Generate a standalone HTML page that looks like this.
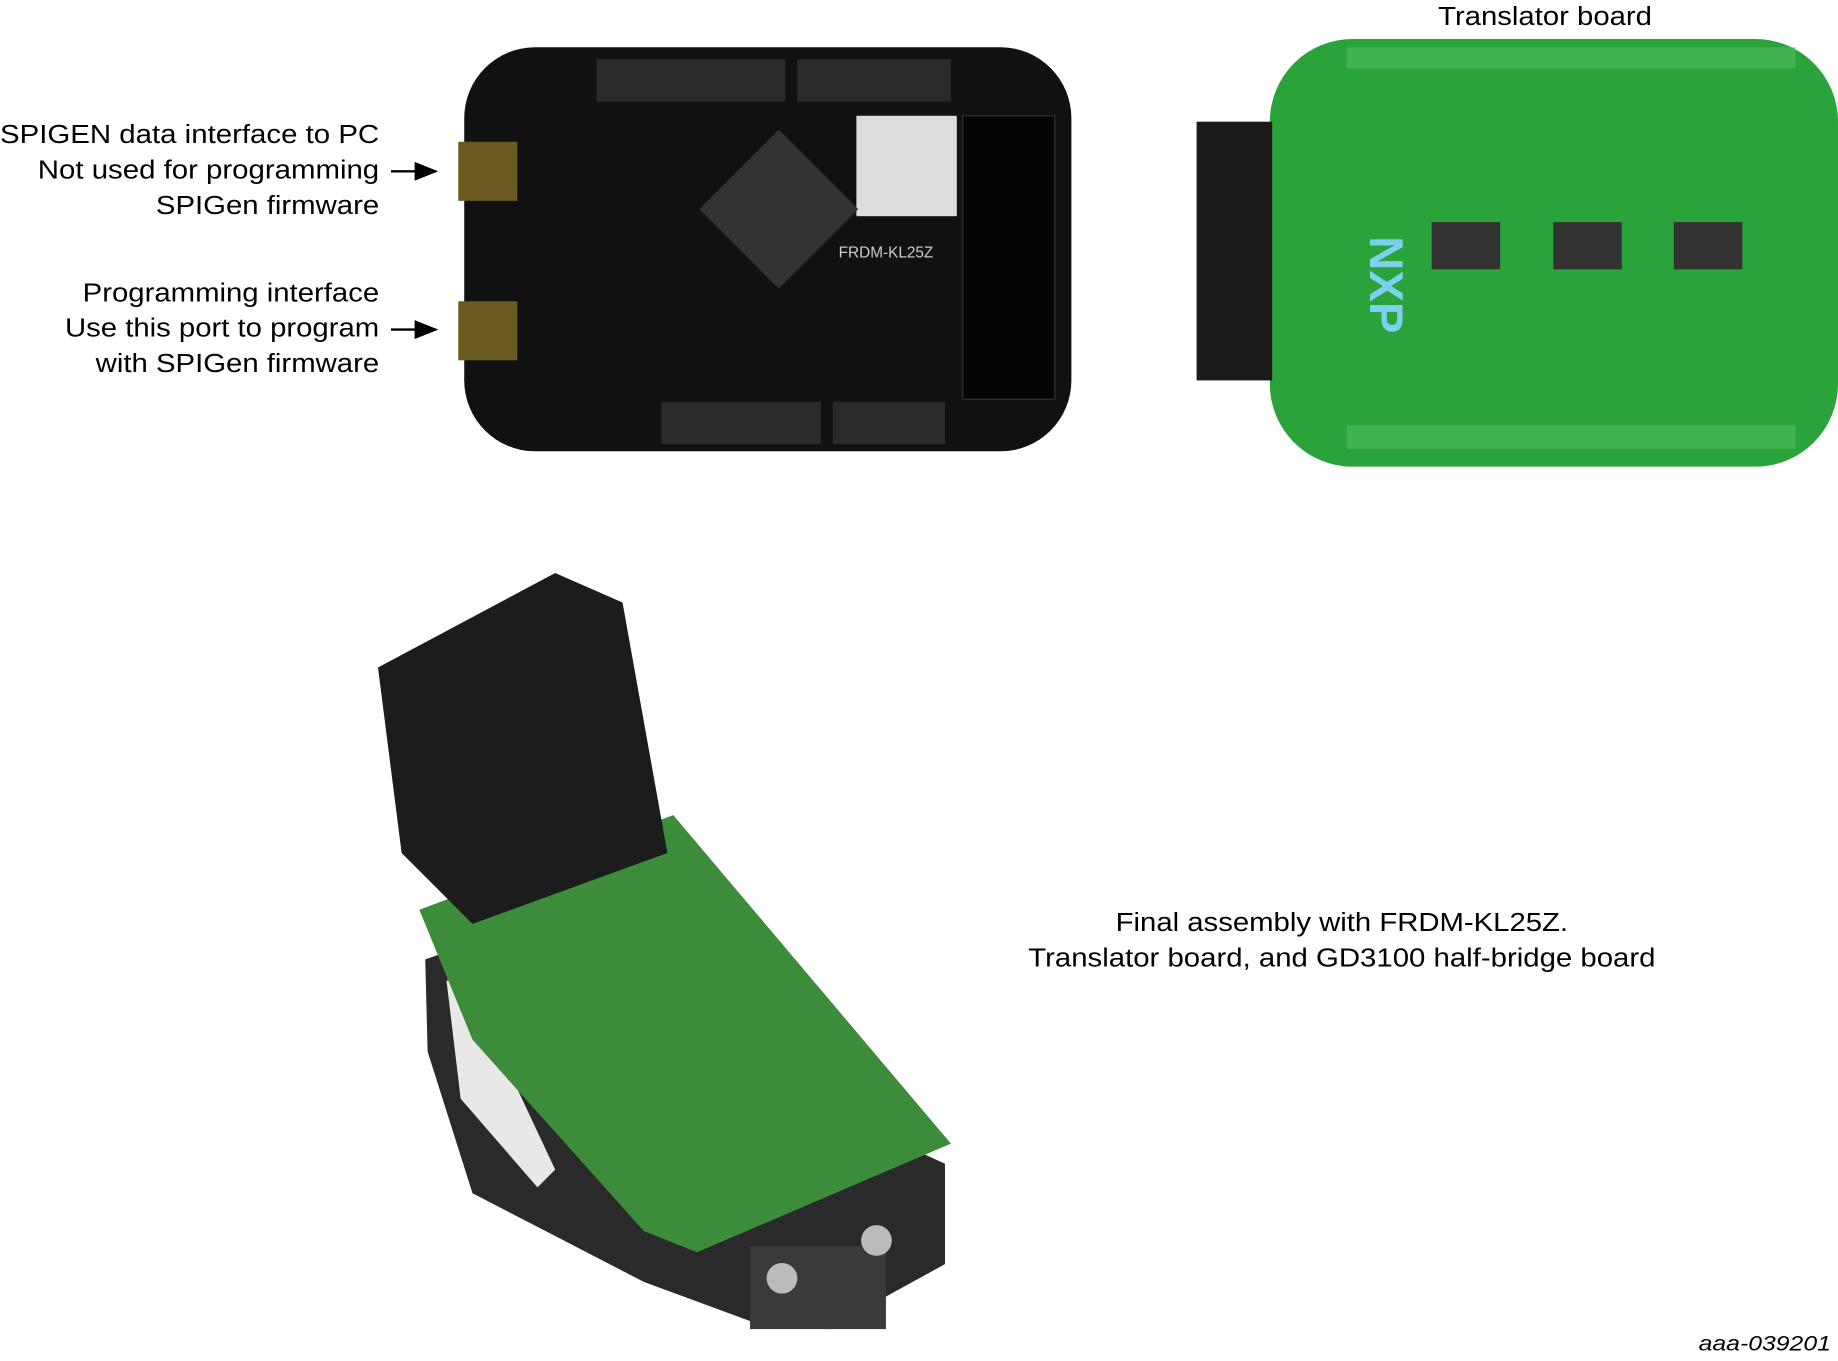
<!DOCTYPE html>
<html><head><style>html,body{margin:0;padding:0;background:#fff}svg{display:block}</style></head><body>
<svg width="1838" height="1361" viewBox="0 0 1556 1152" preserveAspectRatio="none" xmlns="http://www.w3.org/2000/svg" font-family="Liberation Sans, sans-serif">
<defs><marker id="a" markerWidth="10" markerHeight="8" refX="9" refY="4" orient="auto"><path d="M0,0 L10,4 L0,8 Z" fill="#000"/></marker></defs>
<g font-size="22" text-anchor="end" fill="#000" lengthAdjust="spacingAndGlyphs">
<text x="321" y="121" textLength="321" lengthAdjust="spacingAndGlyphs">SPIGEN data interface to PC</text>
<text x="321" y="151" textLength="289" lengthAdjust="spacingAndGlyphs">Not used for programming</text>
<text x="321" y="181" textLength="189" lengthAdjust="spacingAndGlyphs">SPIGen firmware</text>
<text x="321" y="255" textLength="251" lengthAdjust="spacingAndGlyphs">Programming interface</text>
<text x="321" y="285" textLength="266" lengthAdjust="spacingAndGlyphs">Use this port to program</text>
<text x="321" y="315" textLength="240" lengthAdjust="spacingAndGlyphs">with SPIGen firmware</text>
</g>
<line x1="331" y1="145" x2="369" y2="145" stroke="#000" stroke-width="2" marker-end="url(#a)"/>
<line x1="331" y1="279" x2="369" y2="279" stroke="#000" stroke-width="2" marker-end="url(#a)"/>
<!-- black board -->
<rect x="393" y="40" width="514" height="342" rx="60" fill="#111"/>
<rect x="505" y="50" width="160" height="36" fill="#2a2a2a"/>
<rect x="675" y="50" width="130" height="36" fill="#2a2a2a"/>
<rect x="560" y="340" width="135" height="36" fill="#2a2a2a"/>
<rect x="705" y="340" width="95" height="36" fill="#2a2a2a"/>
<rect x="815" y="98" width="78" height="240" fill="#050505" stroke="#333"/>
<rect x="725" y="98" width="85" height="85" fill="#ddd"/>
<rect x="612" y="130" width="95" height="95" fill="#333" transform="rotate(45 660 177)"/>
<rect x="388" y="120" width="50" height="50" fill="#6a5a20"/>
<rect x="388" y="255" width="50" height="50" fill="#6a5a20"/>
<text x="710" y="218" font-size="13" fill="#ccc">FRDM-KL25Z</text>
<!-- translator board -->
<text x="1308" y="21" font-size="22" text-anchor="middle" textLength="181" lengthAdjust="spacingAndGlyphs">Translator board</text>
<rect x="1075" y="33" width="481" height="362" rx="70" fill="#2aa33a"/>
<rect x="1013" y="103" width="64" height="219" fill="#1a1a1a"/>
<rect x="1212" y="188" width="58" height="40" fill="#333"/>
<rect x="1315" y="188" width="58" height="40" fill="#333"/>
<rect x="1417" y="188" width="58" height="40" fill="#333"/>
<rect x="1140" y="40" width="380" height="18" fill="#4cb85a" opacity=".7"/>
<rect x="1140" y="360" width="380" height="20" fill="#4cb85a" opacity=".7"/>
<text x="1160" y="240" font-size="40" font-weight="bold" fill="#7fd0f0" transform="rotate(90 1180 220)">NXP</text>
<!-- assembly -->
<polygon points="360,812 395,800 800,985 800,1070 700,1125 640,1120 545,1085 400,1010 362,890" fill="#2a2a2a"/>
<polygon points="378,830 395,830 470,990 455,1005 390,930" fill="#e8e8e8"/>
<polygon points="355,770 570,690 805,968 590,1060 545,1042 400,880" fill="#3c8c3a"/>
<polygon points="320,565 470,485 527,510 565,722 400,782 340,722" fill="#1c1c1c"/>
<rect x="635" y="1055" width="115" height="70" fill="#3a3a3a"/>
<circle cx="662" cy="1082" r="13" fill="#bbb"/><circle cx="742" cy="1050" r="13" fill="#bbb"/>
<g font-size="22" text-anchor="middle">
<text x="1136" y="788" textLength="383" lengthAdjust="spacingAndGlyphs">Final assembly with FRDM-KL25Z.</text>
<text x="1136" y="818" textLength="531" lengthAdjust="spacingAndGlyphs">Translator board, and GD3100 half-bridge board</text>
</g>
<text x="1550" y="1143" font-size="18" font-style="italic" text-anchor="end" textLength="112" lengthAdjust="spacingAndGlyphs">aaa-039201</text>
</svg>
</body></html>
